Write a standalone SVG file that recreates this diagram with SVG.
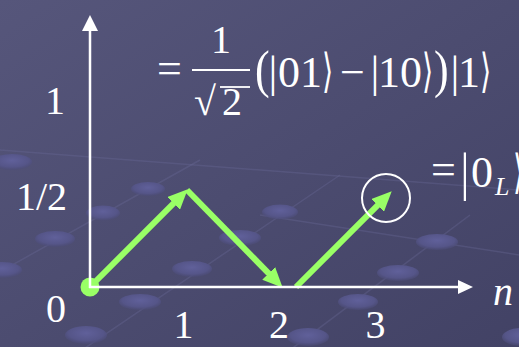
<svg xmlns="http://www.w3.org/2000/svg" width="519" height="347" viewBox="0 0 519 347">
<defs>
<linearGradient id="bg" x1="0" y1="0" x2="1" y2="1">
<stop offset="0" stop-color="#56567b"/>
<stop offset="1" stop-color="#424265"/>
</linearGradient>
<radialGradient id="dot" cx="0.5" cy="0.4" r="0.6">
<stop offset="0" stop-color="#60609a"/>
<stop offset="0.7" stop-color="#555588"/>
<stop offset="1" stop-color="#4c4c78" stop-opacity="0.5"/>
</radialGradient>
<marker id="ah" viewBox="0 0 20 18" refX="1" refY="9" markerWidth="20" markerHeight="18" markerUnits="userSpaceOnUse" orient="auto">
<path d="M0,0 L20,9 L0,18 z" fill="#99ff66"/>
</marker>
<style>
.deco{fill:url(#dot)}
.grid{stroke:#6a6a98;stroke-width:1.5;opacity:0.35;fill:none}
.axis{stroke:#ffffff;stroke-width:2.5;fill:none}
.head{fill:#ffffff}
.green{stroke:#99ff66;stroke-width:6;fill:none;marker-end:url(#ah)}
text{font-family:'Liberation Serif',serif;fill:#ffffff}
.t{font-size:40px}
.m{font-size:44px}
.br{font-family:'DejaVu Sans',sans-serif;font-size:36px}
.it{font-style:italic}
</style>
</defs>
<rect width="519" height="347" fill="url(#bg)"/>
<g id="background">
<path class="grid" d="M60,365 L340,175"/>
<path class="grid" d="M-20,283 L200,160"/>
<path class="grid" d="M270,365 L470,215"/>
<path class="grid" d="M260,215 L519,255"/>
<path class="grid" d="M0,150 L519,190"/>
<ellipse class="deco" cx="12" cy="162" rx="20" ry="8"/>
<ellipse class="deco" cx="148" cy="189" rx="17" ry="7"/>
<ellipse class="deco" cx="103" cy="213" rx="17" ry="7.5"/>
<ellipse class="deco" cx="55" cy="239" rx="20" ry="8"/>
<ellipse class="deco" cx="2" cy="270" rx="20" ry="8"/>
<ellipse class="deco" cx="192" cy="269" rx="20" ry="8"/>
<ellipse class="deco" cx="140" cy="302" rx="21" ry="8"/>
<ellipse class="deco" cx="86" cy="335" rx="21" ry="9"/>
<ellipse class="deco" cx="240" cy="238" rx="21" ry="8"/>
<ellipse class="deco" cx="280" cy="212" rx="18" ry="7.5"/>
<ellipse class="deco" cx="437" cy="242" rx="21" ry="8"/>
<ellipse class="deco" cx="398" cy="273" rx="21" ry="8"/>
<ellipse class="deco" cx="358" cy="302" rx="20" ry="8"/>
<ellipse class="deco" cx="308" cy="337" rx="21" ry="9"/>
<ellipse class="deco" cx="522" cy="337" rx="20" ry="9"/>
</g>
<g id="start-dot"><circle cx="90" cy="287" r="9.5" fill="#99ff66"/></g>
<g id="connectors">
<line class="green" x1="90" y1="287" x2="174.3" y2="202.7"/>
<line class="green" x1="187" y1="190" x2="269.4" y2="274.1"/>
<line class="green" x1="296" y1="287" x2="378.3" y2="204.7"/>
</g>
<g id="axes">
<line class="axis" x1="90" y1="288" x2="90" y2="29"/>
<polygon class="head" points="90,15 98,31 82,31"/>
<line class="axis" x1="89" y1="287" x2="459" y2="287"/>
<polygon class="head" points="473,287 458,280 458,294"/>
</g>
<g id="highlight"><circle cx="386" cy="198" r="24" fill="none" stroke="#ffffff" stroke-width="2"/></g>
<g id="labels">
<text class="t" x="55" y="114" text-anchor="middle">1</text>
<text class="t" x="16" y="210">1/2</text>
<text class="t" x="56" y="322" text-anchor="middle">0</text>
<text class="t" x="183.5" y="338" text-anchor="middle">1</text>
<text class="t" x="279" y="338" text-anchor="middle">2</text>
<text class="t" x="375.5" y="338" text-anchor="middle">3</text>
<text class="t it" x="493" y="305" font-size="42">n</text>
</g>
<g id="formula1">
<text class="m" x="157" y="83">=</text>
<text class="t" x="221" y="53" text-anchor="middle">1</text>
<line x1="192" y1="70" x2="250" y2="70" stroke="#ffffff" stroke-width="2"/>
<text class="t" x="194" y="115">√</text>
<line x1="220" y1="87" x2="250" y2="87" stroke="#ffffff" stroke-width="1.8"/>
<text class="t" x="222" y="115">2</text>
<text class="m" transform="translate(255,87) scale(1,1.2)">(</text>
<text class="m" x="273" y="87" text-anchor="middle">|</text>
<text class="m" x="278" y="87">01</text>
<text class="br" transform="translate(322,87) scale(0.8,1.3)">⟩</text>
<text class="m" x="340" y="87">−</text>
<text class="m" x="375" y="87" text-anchor="middle">|</text>
<text class="m" x="378" y="87">10</text>
<text class="br" transform="translate(422,87) scale(0.8,1.3)">⟩</text>
<text class="m" transform="translate(434,87) scale(1,1.2)">)</text>
<text class="m" x="455" y="87" text-anchor="middle">|</text>
<text class="m" x="458" y="87">1</text>
<text class="br" transform="translate(480,87) scale(0.8,1.3)">⟩</text>
</g>
<g id="formula2">
<text class="m" x="431" y="184">=</text>
<text class="m" transform="translate(465,190) scale(1,1.2)" text-anchor="middle">|</text>
<text class="m" x="471" y="187">0</text>
<text class="it" x="495" y="195" font-size="26">L</text>
<text class="br" transform="translate(513,188) scale(0.8,1.3)">⟩</text>
</g>
</svg>
